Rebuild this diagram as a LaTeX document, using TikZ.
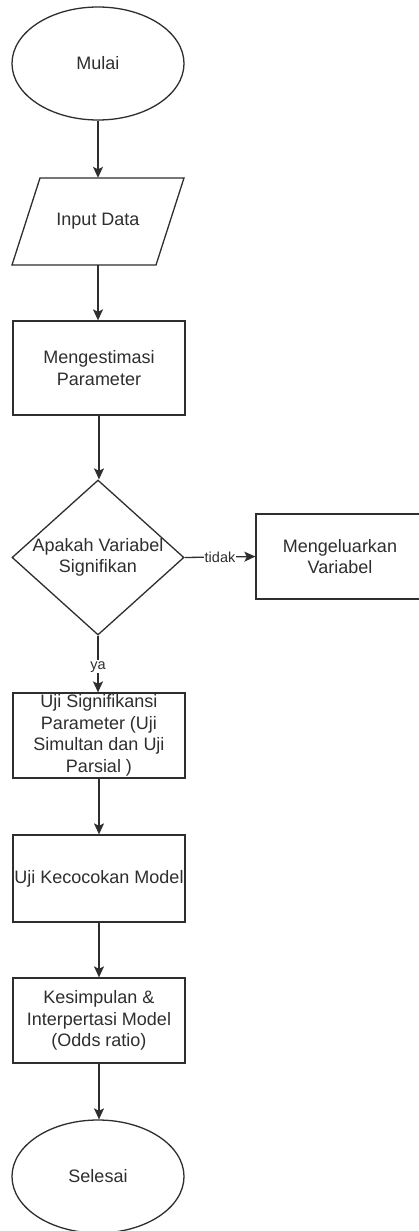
\documentclass[tikz,border=0pt]{standalone}
\usepackage{fontspec}
\setmainfont{Liberation Sans}
\usetikzlibrary{shapes.geometric,arrows.meta}
\definecolor{ink}{HTML}{2E2E2E}
\begin{document}
\begin{tikzpicture}[x=1pt,y=-1pt,
  every node/.style={font=\fontsize{18}{21.5}\selectfont, text=ink, align=center, inner sep=0pt},
  line/.style={draw=ink, line width=1.3pt},
  term/.style={line, ellipse, minimum width=172pt, minimum height=113pt},
  procbox/.style={line, rectangle, minimum width=172pt},
  flow/.style={draw=ink, line width=1.3pt, -{Stealth[length=11pt,width=10pt,inset=2.5pt]}},
  lbl/.style={font=\fontsize{14.5}{16}\selectfont, fill=white, inner sep=1pt}
]
\useasboundingbox (0,0) rectangle (419,1231);
\clip (0,0) rectangle (419,1231);
\fill[white] (0,0) rectangle (419,1231);

\node[term] (start) at (98,63.5) {Mulai};
\node[minimum width=116pt, minimum height=87pt] (inp) at (98,221.5) {Input Data};
\draw[line, line join=miter] (40,178) -- (184,178) -- (156,265) -- (12,265) -- cycle;
\node[procbox, minimum height=94pt] (est) at (99,368) {Mengestimasi\\Parameter};
\node[line, diamond, minimum width=172pt, minimum height=155pt] (dec) at (98,557.5) {};
\node (dectext) at (98,557.5) {Apakah Variabel\\Signifikan};
\node[line, rectangle, minimum width=168pt, minimum height=85pt] (out) at (340,556.5) {Mengeluarkan\\Variabel};
\node[procbox, minimum height=85pt] (sig) at (99,735.5) {Uji Signifikansi\\Parameter (Uji\\Simultan dan Uji\\Parsial )};
\node[procbox, minimum height=87pt] (cocok) at (99,878.5) {Uji Kecocokan Model};
\node[procbox, minimum height=85pt] (simp) at (99,1020.5) {Kesimpulan \&\\Interpertasi Model\\(Odds ratio)};
\node[term] (end) at (98,1176.5) {Selesai};

\draw[flow] (start.south) -- (inp.north);
\draw[flow] (inp.south) -- (inp.south |- est.north);
\draw[flow] (est.south) -- (est.south |- dec.north);
\draw[flow] (dec.east) -- (out.west) node[lbl, pos=0.5] (tidak) {tidak};
\draw[flow] (dec.south) -- (dec.south |- sig.north) node[lbl, pos=0.55] (ya) {ya};
\draw[flow] (sig.south) -- (cocok.north);
\draw[flow] (cocok.south) -- (simp.north);
\draw[flow] (simp.south) -- (simp.south |- end.north);
\end{tikzpicture}
\end{document}
